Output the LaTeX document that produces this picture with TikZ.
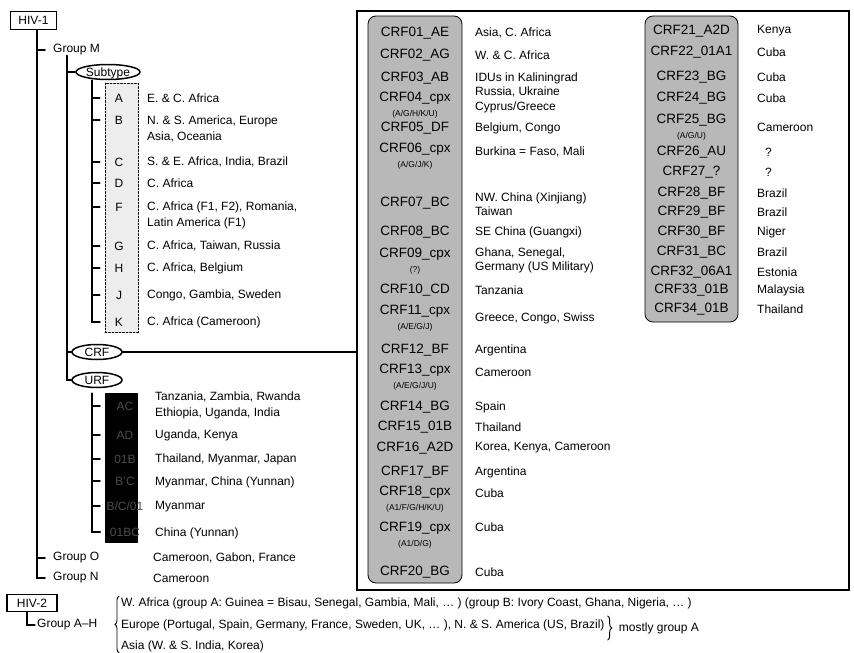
\documentclass[tikz,border=0pt]{standalone}
\usepackage{fontspec}
\setmainfont{Liberation Sans}
\usetikzlibrary{shapes.geometric,decorations.pathreplacing}
\newcommand{\subtip}[1]{{\fontsize{8.5}{13}\selectfont #1}}
\begin{document}
\begin{tikzpicture}[x=1pt,y=-1pt,line cap=round,
  every node/.style={font=\fontsize{12}{16}\selectfont},
  rama/.style={line width=1.9pt},
  etiq/.style={anchor=west,inner sep=0pt,align=left},
  etiqcrf/.style={align=center,inner sep=0pt,font=\fontsize{13.5}{15}\selectfont},
  caja/.style={draw,line width=1.4pt,inner sep=1pt,minimum width=46pt,minimum height=18pt},
  elip/.style={ellipse,draw,line width=1.5pt,inner sep=0pt,text height=8.5pt,text depth=0.5pt,minimum height=15pt},
  columna/.style={draw,rounded corners=8pt,fill=black!28,line width=0.8pt,minimum width=94pt,inner sep=0pt},
  llave/.style={line width=0.9pt,decorate,decoration={brace,amplitude=4pt}}]
  \useasboundingbox (0,0) rectangle (854,653);
  % HIV-1: grupos M, O y N
  \node[caja] (hiv1) at (33.5,20.5) {HIV-1};
  \node[etiq] (grpM) at (53,50) {Group M};
  \node[etiq] (grpO) at (53,558) {Group O};
  \node[etiq] (grpN) at (53,578) {Group N};
  \node[etiq] (paisO) at (153,558) {Cameroon, Gabon, France};
  \node[etiq] (paisN) at (153,578) {Cameroon};
  \coordinate (tronco) at ([xshift=3.5pt]hiv1.south);
  \draw[rama] (tronco) |- ([xshift=-8pt]grpN.west);
  \draw[rama] (tronco |- grpM.west) -- ([xshift=-8pt]grpM.west);
  \draw[rama] (tronco |- grpO.west) -- ([xshift=-8pt]grpO.west);
  % Grupo M: subtipos, CRF y URF
  \node[elip,minimum width=64pt] (subtipo) at (108,72) {Subtype};
  \node[elip,minimum width=50pt] (crf) at (97,352) {CRF};
  \node[elip,minimum width=50pt] (urf) at (97,380) {URF};
  \coordinate (troncoM) at ([xshift=14pt]grpM.south west);
  \draw[rama] (troncoM) |- (urf.west);
  \draw[rama] (troncoM |- subtipo.west) -- (subtipo.west);
  \draw[rama] (troncoM |- crf.west) -- (crf.west);
  \node[draw,dash pattern=on 2pt off 1.5pt,line width=0.6pt,fill=black!7,minimum width=33pt,minimum height=249pt,inner sep=0pt] (cajaSub) at (121.5,207.5) {};
  \coordinate (troncoS) at ([xshift=-16pt]subtipo.south);
  \foreach \n/\y/\yp/\pais in {A/98/98/{E. \& C. Africa},
      B/120/128.5/{N. \& S. America, Europe\\Asia, Oceania},
      C/162/162/{S. \& E. Africa, India, Brazil},
      D/183/183/{C. Africa},
      F/207/215.5/{C. Africa (F1, F2), Romania,\\Latin America (F1)},
      G/246/246/{C. Africa, Taiwan, Russia},
      H/268/268/{C. Africa, Belgium},
      J/295/295/{Congo, Gambia, Sweden},
      K/322/322/{C. Africa (Cameroon)}}{
    \node (s\n) at (119,\y) {\n};
    \node[etiq] (t\n) at (147,\yp) {\pais};
    \draw[rama] (troncoS |- s\n) -- ([xshift=-5pt]cajaSub.west |- s\n);
  }
  \draw[rama] (troncoS) |- ([xshift=-5pt]cajaSub.west |- sK);
  % URF
  \node[fill=black,minimum width=33pt,minimum height=150pt,inner sep=0pt] (cajaURF) at (121.5,468) {};
  \coordinate (troncoU) at ([xshift=-5pt,yshift=-5pt]urf.south);
  \foreach \i/\y/\lab/\yp/\pais in {1/406/AC/405/{Tanzania, Zambia, Rwanda\\Ethiopia, Uganda, India},
      2/435/AD/435/{Uganda, Kenya},
      3/459/01B/459/{Thailand, Myanmar, Japan},
      4/481/{B'C}/482/{Myanmar, China (Yunnan)},
      5/506/{B/C/01}/507/{Myanmar},
      6/532/{01BC}/533/{China (Yunnan)}}{
    \node[text=black!70] (u\i) at (125,\y) {\lab};
    \node[etiq] (v\i) at (155,\yp) {\pais};
    \draw[rama] (troncoU |- u\i) -- ([xshift=-5pt]cajaURF.west |- u\i);
  }
  \draw[rama] (troncoU) |- ([xshift=-5pt]cajaURF.west |- u6);
  % Recombinantes circulantes
  \node[draw,line width=1.5pt,minimum width=492pt,minimum height=579pt,inner sep=0pt] (cajaCRF) at (603,300.5) {};
  \draw[rama] (crf.east) -- (crf.east -| cajaCRF.west);
  \node[columna,minimum height=567pt] (colA) at (415,299.5) {};
  \node[columna,minimum width=93pt,minimum height=306pt] (colB) at (691.5,169) {};
  \foreach \i/\y/\lab/\yp/\pais in {01/33/{CRF01\_AE}/33/{Asia, C. Africa},
      02/55/{CRF02\_AG}/55/{W. \& C. Africa},
      03/78/{CRF03\_AB}/85/{IDUs in Kaliningrad\\Russia, Ukraine},
      04/105/{CRF04\_cpx\\\subtip{(A/G/H/K/U)}}/107/{Cyprus/Greece},
      05/128/{CRF05\_DF}/128/{Belgium, Congo},
      06/156/{CRF06\_cpx\\\subtip{(A/G/J/K)}}/152/{Burkina = Faso, Mali},
      07/203/{CRF07\_BC}/204.5/{NW. China (Xinjiang)\\Taiwan},
      08/232/{CRF08\_BC}/232/{SE China (Guangxi)},
      09/261/{CRF09\_cpx\\\subtip{(?)}}/260.5/{Ghana, Senegal,\\Germany (US Military)},
      10/290/{CRF10\_CD}/290/{Tanzania},
      11/318.5/{CRF11\_cpx\\\subtip{(A/E/G/J)}}/318/{Greece, Congo, Swiss},
      12/350/{CRF12\_BF}/350/{Argentina},
      13/377/{CRF13\_cpx\\\subtip{(A/E/G/J/U)}}/372/{Cameroon},
      14/407/{CRF14\_BG}/407/{Spain},
      15/427/{CRF15\_01B}/427/{Thailand},
      16/448/{CRF16\_A2D}/448/{Korea, Kenya, Cameroon},
      17/472/{CRF17\_BF}/472/{Argentina},
      18/499/{CRF18\_cpx\\\subtip{(A1/F/G/H/K/U)}}/493/{Cuba},
      19/535/{CRF19\_cpx\\\subtip{(A1/D/G)}}/527/{Cuba},
      20/572/{CRF20\_BG}/572/{Cuba}}{
    \node[etiqcrf] (crf\i) at (415,\y) {\lab};
    \node[etiq,font=\fontsize{12}{14}\selectfont] (pais\i) at (475,\yp) {\pais};
  }
  \foreach \i/\y/\lab/\xp/\pais in {21/31/{CRF21\_A2D}/757/{Kenya},
      22/52/{CRF22\_01A1}/757/{Cuba},
      23/77/{CRF23\_BG}/757/{Cuba},
      24/98/{CRF24\_BG}/757/{Cuba},
      25/127/{CRF25\_BG\\\subtip{(A/G/U)}}/757/{Cameroon},
      26/152/{CRF26\_AU}/765/{?},
      27/172/{CRF27\_?}/765/{?},
      28/193/{CRF28\_BF}/757/{Brazil},
      29/212/{CRF29\_BF}/757/{Brazil},
      30/232/{CRF30\_BF}/757/{Niger},
      31/252/{CRF31\_BC}/757/{Brazil},
      32/272/{CRF32\_06A1}/757/{Estonia},
      33/290/{CRF33\_01B}/757/{Malaysia},
      34/309/{CRF34\_01B}/757/{Thailand}}{
    \node[etiqcrf] (crf\i) at (691.5,\y) {\lab};
    \node[etiq] (pais\i) at (\xp,\y) {\pais};
  }
  % HIV-2
  \node[caja,minimum width=50pt,minimum height=17pt] (hiv2) at (32,603) {HIV-2};
  \node[etiq] (grpAH) at (37,625) {Group A--H};
  \draw[line width=1.3pt] ([xshift=-5pt]hiv2.south) |- ([xshift=-2pt]grpAH.west);
  \node[etiq] (linea1) at (121,603) {W. Africa (group A: Guinea = Bisau, Senegal, Gambia, Mali, … ) (group B: Ivory Coast, Ghana, Nigeria, … )};
  \node[etiq] (linea2) at (121,625) {Europe (Portugal, Spain, Germany, France, Sweden, UK, … ), N. \& S. America (US, Brazil)};
  \node[etiq] (linea3) at (121,646) {Asia (W. \& S. India, Korea)};
  \draw[llave] ([xshift=-2pt,yshift=-1pt]linea3.south west) -- ([xshift=-2pt,yshift=1pt]linea1.north west);
  \draw[llave] ([xshift=3pt,yshift=9pt]linea2.east) -- ([xshift=3pt,yshift=-15pt]linea2.east);
  \node[etiq] (mayoria) at ([xshift=14pt,yshift=-3pt]linea2.east) {mostly group A};
\end{tikzpicture}
\end{document}
